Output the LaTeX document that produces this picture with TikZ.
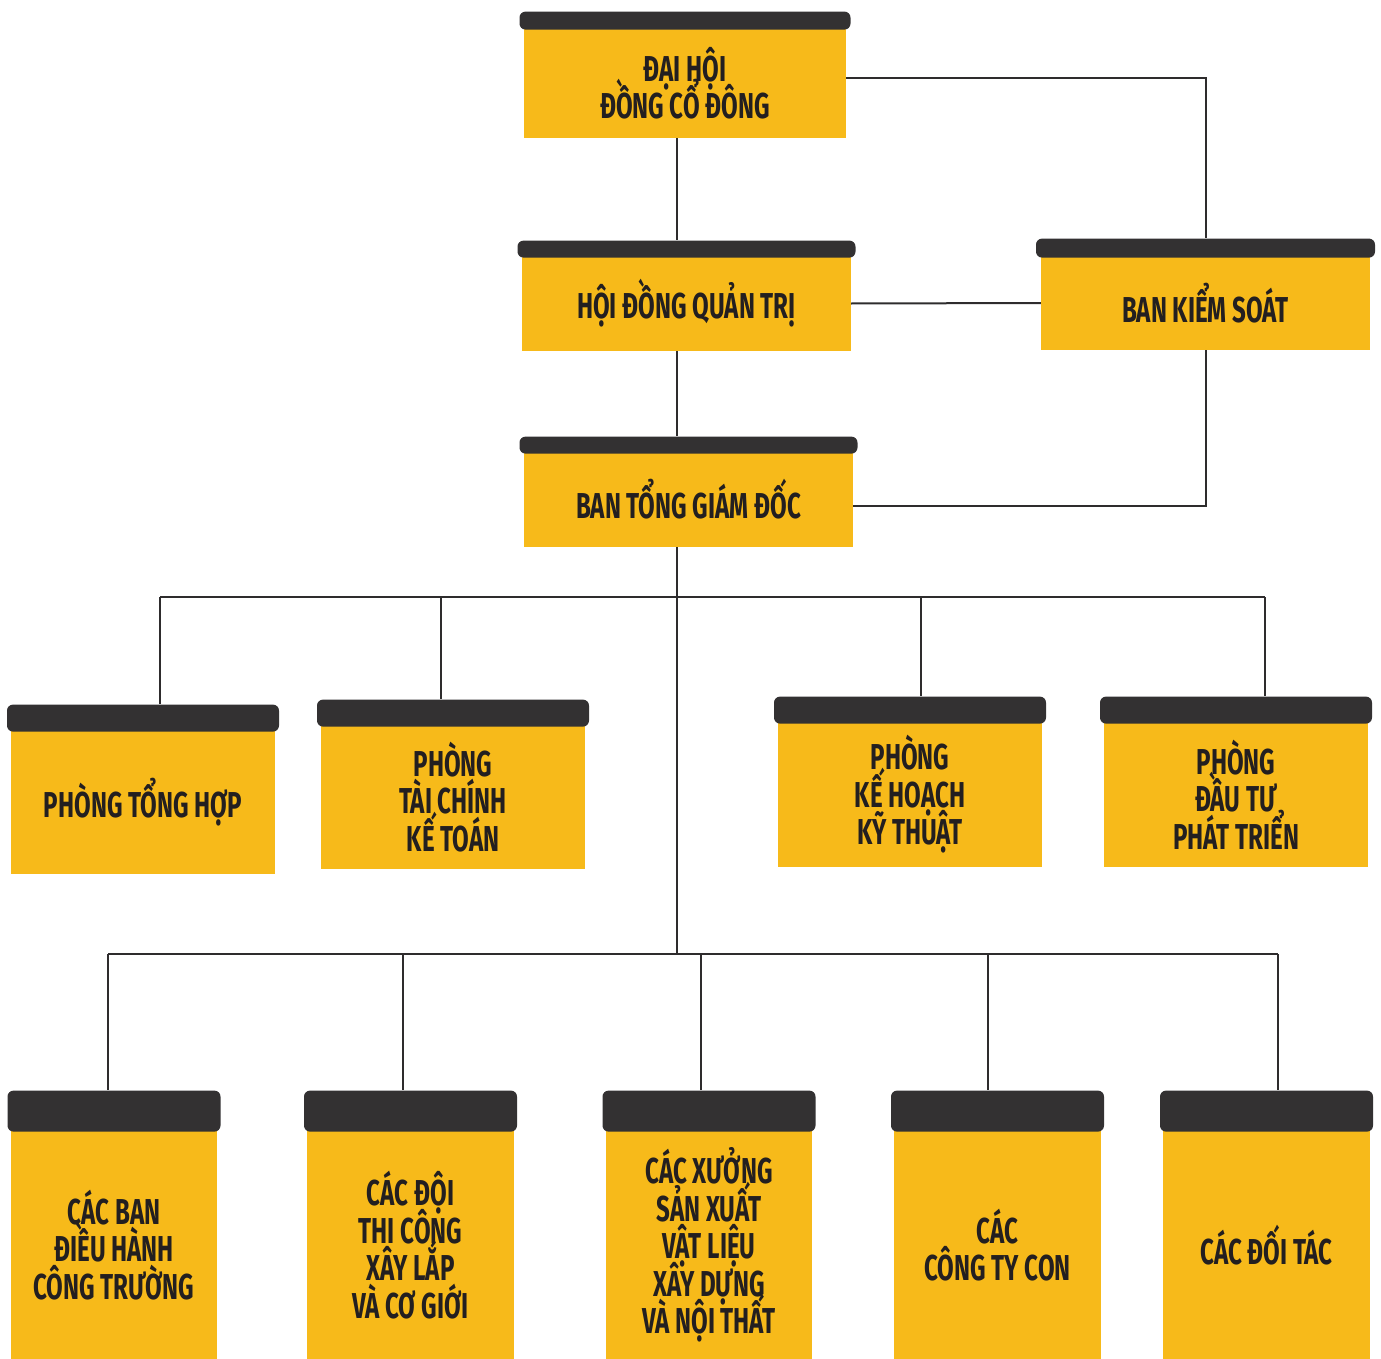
\documentclass[tikz,border=0pt]{standalone}
\usepackage{fontspec}
\setmainfont{Fira Sans}[FakeStretch=0.67]
\usepackage{tikz}
\usetikzlibrary{positioning}
\definecolor{boxyellow}{HTML}{F7BA1A}
\definecolor{bardark}{HTML}{333132}
\definecolor{linkgray}{HTML}{2E2C2D}
\definecolor{inkdark}{HTML}{231F20}
\setlength{\lineskiplimit}{-40pt}

\begin{document}
\begin{tikzpicture}[x=1pt,y=-1pt,
  unit/.style={fill=boxyellow,inner sep=0pt,align=center,text=inkdark,font=\fontsize{36}{37.5}\selectfont\bfseries},
  bar/.style={fill=bardark,rounded corners=6pt,inner sep=0pt},
  link/.style={draw=linkgray,line width=2pt}]
\useasboundingbox (0,0) rectangle (1381,1359);
% upper levels
\node[unit,minimum width=322,minimum height=110] (dhcd) at (685,83) {ĐẠI HỘI\\ĐỒNG CỔ ĐÔNG};
\node[unit,minimum width=329,minimum height=95] (hdqt) at (686.5,303.5) {HỘI ĐỒNG QUẢN TRỊ};
\node[unit,minimum width=329,minimum height=94] (bks) at (1205.5,303) {BAN KIỂM SOÁT};
\node[unit,minimum width=329,minimum height=95] (btgd) at (688.5,499.5) {BAN TỔNG GIÁM ĐỐC};
\node[bar,minimum width=331,minimum height=18,above=-2pt of dhcd] (dhcd-bar) {};
\node[bar,minimum width=338,minimum height=17,above=-2pt of hdqt] (hdqt-bar) {};
\node[bar,minimum width=339,minimum height=19,above=-2pt of bks] (bks-bar) {};
\node[bar,minimum width=338,minimum height=17,above=-2pt of btgd] (btgd-bar) {};
% departments
\node[unit,minimum width=264,minimum height=144] (pth) at (143,802) {PHÒNG TỔNG HỢP};
\node[unit,minimum width=264,minimum height=144] (ptckt) at (453,797) {PHÒNG\\TÀI CHÍNH\\KẾ TOÁN};
\node[unit,minimum width=264,minimum height=145] (pkhkt) at (910,794.5) {PHÒNG\\KẾ HOẠCH\\KỸ THUẬT};
\node[unit,minimum width=264,minimum height=145] (pdtpt) at (1236,794.5) {PHÒNG\\ĐẦU TƯ\\PHÁT TRIỂN};
\foreach \n in {pth,ptckt,pkhkt,pdtpt}
  \node[bar,minimum width=272,minimum height=27,above=-2pt of \n] (\n-bar) {};
% units
\node[unit,minimum width=206,minimum height=228] (cbdh) at (114,1245) {CÁC BAN\\ĐIỀU HÀNH\\CÔNG TRƯỜNG};
\node[unit,minimum width=207,minimum height=228] (cdtc) at (410.5,1245) {CÁC ĐỘI\\THI CÔNG\\XÂY LẮP\\VÀ CƠ GIỚI};
\node[unit,minimum width=206,minimum height=228] (cxsx) at (709,1245) {CÁC XƯỞNG\\SẢN XUẤT\\VẬT LIỆU\\XÂY DỰNG\\VÀ NỘI THẤT};
\node[unit,minimum width=207,minimum height=228] (cctc) at (997.5,1245) {CÁC\\CÔNG TY CON};
\node[unit,minimum width=207,minimum height=228] (cdt) at (1266.5,1245) {CÁC ĐỐI TÁC};
\foreach \n in {cbdh,cdtc,cxsx,cctc,cdt}
  \node[bar,minimum width=213,minimum height=41,above=-1pt of \n] (\n-bar) {};
% connectors
\coordinate (spine) at (677,0);
\draw[link] (dhcd.south -| spine) -- (hdqt-bar.north -| spine);
\draw[link] (hdqt.south -| spine) -- (btgd-bar.north -| spine);
\draw[link] (dhcd.east |- 0,78) -| (bks-bar.north);
\draw[link] (hdqt.east) -- (bks.west);
\draw[link] (bks.south) |- (btgd.east |- 0,506);
\coordinate (p1) at (160,597);
\coordinate (p2) at (441,597);
\coordinate (p3) at (921,597);
\coordinate (p4) at (1265,597);
\coordinate (q1) at (108,954);
\coordinate (q2) at (403,954);
\coordinate (q3) at (701,954);
\coordinate (q4) at (988,954);
\coordinate (q5) at (1278,954);
\draw[link] (btgd.south -| spine) -- (spine |- q1);
\draw[link] (p1) -- (p4);
\draw[link] (q1) -- (q5);
\draw[link] (p1) -- (p1 |- pth-bar.north);
\draw[link] (p2) -- (p2 |- ptckt-bar.north);
\draw[link] (p3) -- (p3 |- pkhkt-bar.north);
\draw[link] (p4) -- (p4 |- pdtpt-bar.north);
\draw[link] (q1) -- (q1 |- cbdh-bar.north);
\draw[link] (q2) -- (q2 |- cdtc-bar.north);
\draw[link] (q3) -- (q3 |- cxsx-bar.north);
\draw[link] (q4) -- (q4 |- cctc-bar.north);
\draw[link] (q5) -- (q5 |- cdt-bar.north);
\end{tikzpicture}
\end{document}
